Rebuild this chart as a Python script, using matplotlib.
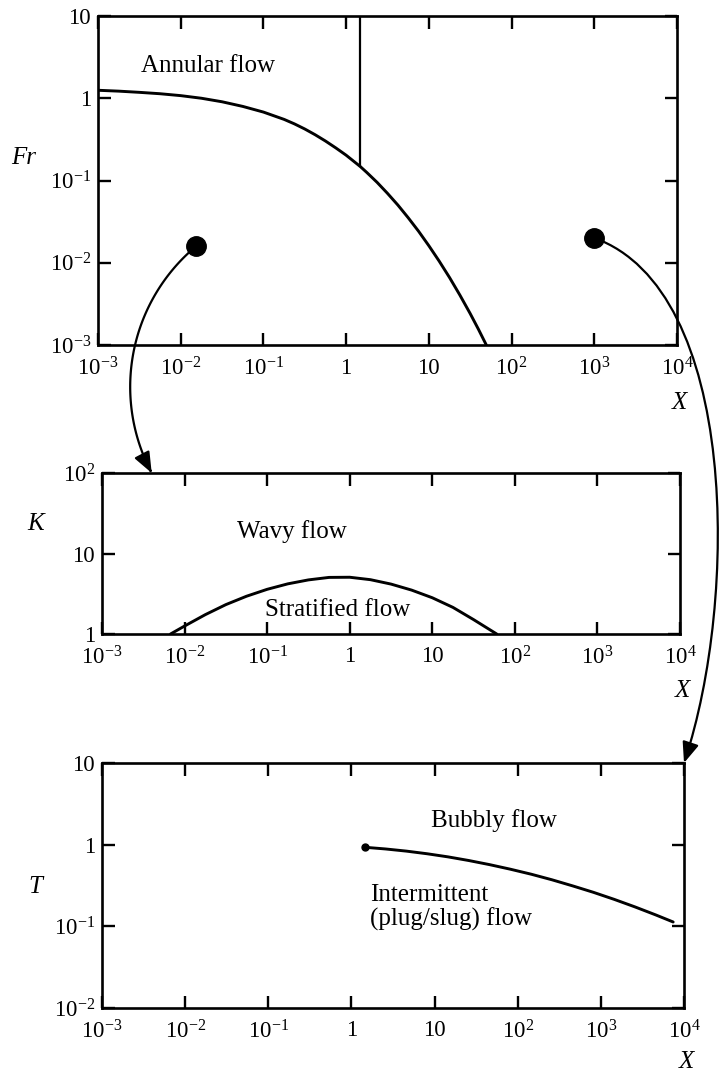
import numpy as np
import matplotlib
matplotlib.use("Agg")
import matplotlib.pyplot as plt
from matplotlib.path import Path
from matplotlib.patches import FancyArrowPatch
from matplotlib.ticker import FixedLocator, FixedFormatter, NullLocator
from matplotlib.transforms import IdentityTransform, blended_transform_factory

plt.rcParams["font.family"] = ["Liberation Serif", "DejaVu Serif"]
plt.rcParams["mathtext.fontset"] = "custom"
plt.rcParams["mathtext.rm"] = "Liberation Serif"
plt.rcParams["mathtext.it"] = "Liberation Serif:italic"
plt.rcParams["mathtext.bf"] = "Liberation Serif:bold"

# ---- shared X axis (Martinelli parameter) ----
x_ticks = [1e-3, 1e-2, 1e-1, 1, 10, 1e2, 1e3, 1e4]
x_ticklabels = [r"$10^{-3}$", r"$10^{-2}$", r"$10^{-1}$", "1", "10",
                r"$10^{2}$", r"$10^{3}$", r"$10^{4}$"]

# ---- panel 1: Froude number map ----
fr_ticks = [1e-3, 1e-2, 1e-1, 1, 10]
fr_ticklabels = [r"$10^{-3}$", r"$10^{-2}$", r"$10^{-1}$", "1", "10"]
fr_curve_x = [0.001, 0.00178, 0.00316, 0.00562, 0.01, 0.0178, 0.0316, 0.0562,
              0.1, 0.178, 0.237, 0.316, 0.422, 0.562, 0.75, 1.0, 1.48, 1.78,
              2.37, 3.16, 4.22, 5.62, 7.5, 10, 13.3, 17.8, 23.7, 31.6, 39.8, 49.5]
fr_curve_y = [1.25, 1.22, 1.18, 1.135, 1.076, 1.0, 0.906, 0.796,
              0.679, 0.553, 0.488, 0.423, 0.360, 0.302, 0.249, 0.203, 0.148, 0.125,
              0.0948, 0.0698, 0.0503, 0.0353, 0.0242, 0.0161, 0.0105, 0.0066,
              0.00405, 0.00241, 0.00155, 0.001]
annular_x = [1.48, 1.48]
annular_y = [0.148, 10]
dot_x = [0.0155, 1000]
dot_y = [0.016, 0.02]

# ---- panel 2: K map ----
k_ticks = [1, 10, 100]
k_ticklabels = ["1", "10", r"$10^{2}$"]
k_curve_x = [0.00676, 0.01, 0.0178, 0.0316, 0.0562, 0.1, 0.178, 0.316, 0.562,
             1.0, 1.78, 3.16, 5.62, 10, 17.8, 31.6, 60.3]
k_curve_y = [1.0, 1.256, 1.738, 2.317, 2.944, 3.589, 4.198, 4.699, 5.047,
             5.07, 4.73, 4.17, 3.51, 2.82, 2.14, 1.51, 1.0]

# ---- panel 3: T map ----
t_ticks = [1e-2, 1e-1, 1, 10]
t_ticklabels = [r"$10^{-2}$", r"$10^{-1}$", "1", "10"]
t_curve_x = [1.45, 2.57, 4.57, 8.13, 14.5, 25.7, 45.7, 81.3, 145, 257, 457,
             813, 1445, 2570, 4570, 7410]
t_curve_y = [0.929, 0.886, 0.834, 0.774, 0.709, 0.640, 0.570, 0.501, 0.435,
             0.372, 0.313, 0.261, 0.214, 0.173, 0.138, 0.113]

W, H = 720, 1075
fig = plt.figure(figsize=(W / 100, H / 100), dpi=100)

TICK_FS = 16.5
TEXT_FS = 18


def add_panel(left, top, right, bottom, ylim, yticks, yticklabels):
    ax = fig.add_axes([left / W, (H - bottom) / H, (right - left) / W, (bottom - top) / H])
    ax.set_xscale("log")
    ax.set_yscale("log")
    ax.set_xlim(1e-3, 1e4)
    ax.set_ylim(*ylim)
    ax.xaxis.set_major_locator(FixedLocator(x_ticks))
    ax.xaxis.set_major_formatter(FixedFormatter(x_ticklabels))
    ax.yaxis.set_major_locator(FixedLocator(yticks))
    ax.yaxis.set_major_formatter(FixedFormatter(yticklabels))
    ax.xaxis.set_minor_locator(NullLocator())
    ax.yaxis.set_minor_locator(NullLocator())
    ax.tick_params(axis="both", which="major", direction="in", top=True, right=True,
                   length=9, width=1.7, labelsize=TICK_FS, color="black")
    ax.tick_params(axis="x", pad=9)
    ax.tick_params(axis="y", pad=5)
    for s in ax.spines.values():
        s.set_linewidth(1.9)
    return ax


ax1 = add_panel(98, 16, 677, 345, (1e-3, 10), fr_ticks, fr_ticklabels)
ax2 = add_panel(102, 473, 680, 634, (1, 100), k_ticks, k_ticklabels)
ax3 = add_panel(102, 763, 684, 1008, (1e-2, 10), t_ticks, t_ticklabels)

line_kw = dict(color="black", lw=2.1, solid_capstyle="round", solid_joinstyle="round")

# Panel 1 boundaries
ax1.plot(fr_curve_x, fr_curve_y, **line_kw)
ax1.plot(annular_x, annular_y, color="black", lw=1.6)
ax1.plot(dot_x, dot_y, "o", ms=14, color="black", clip_on=False, zorder=5)
ax1.text(0.0214, 2.5, "Annular flow", fontsize=TEXT_FS, ha="center", va="center")

# Panel 2 boundary
ax2.plot(k_curve_x, k_curve_y, **line_kw)
ax2.text(0.2, 18.5, "Wavy flow", fontsize=TEXT_FS, ha="center", va="center")
ax2.text(0.72, 2.0, "Stratified flow", fontsize=TEXT_FS, ha="center", va="center")

# Panel 3 boundary
ax3.plot(t_curve_x, t_curve_y, **line_kw)
ax3.plot(t_curve_x[:1], t_curve_y[:1], "o", ms=5, color="black")
ax3.text(52, 2.0, "Bubbly flow", fontsize=TEXT_FS, ha="center", va="center")
ax3.text(1.66, 0.17, "Intermittent\n(plug/slug) flow", fontsize=TEXT_FS,
         ha="left", va="center", linespacing=1.05)

# Axis titles
for ax, name, ypos, xfrac, xlab_y in [(ax1, "Fr", 0.19, -0.128, -0.175),
                                      (ax2, "K", 23, -0.114, -0.355),
                                      (ax3, "T", 0.30, -0.115, -0.22)]:
    tr = blended_transform_factory(ax.transAxes, ax.transData)
    ax.text(xfrac, ypos, name, transform=tr, fontsize=TEXT_FS, style="italic",
            ha="center", va="center")
    ax.text(1.005, xlab_y, "X", transform=ax.transAxes, fontsize=TEXT_FS,
            style="italic", ha="center", va="center")


# Connector arrows linking the marked points to the detail maps
def circle_arc(p0, p1, radius, n=120):
    p0 = np.asarray(p0, float)
    p1 = np.asarray(p1, float)
    chord = p1 - p0
    c = np.hypot(*chord)
    normal = np.array([-chord[1], chord[0]]) / c
    h = np.sqrt(max(radius ** 2 - (c / 2) ** 2, 0.0))
    center = (p0 + p1) / 2 + h * normal
    a0 = np.arctan2(p0[1] - center[1], p0[0] - center[0])
    a1 = np.arctan2(p1[1] - center[1], p1[0] - center[0])
    delta = (a1 - a0 + np.pi) % (2 * np.pi) - np.pi
    ang = a0 + delta * np.linspace(0, 1, n)
    return center + radius * np.column_stack([np.cos(ang), np.sin(ang)])


arrow_kw = dict(arrowstyle="-|>,head_length=0.7,head_width=0.28", mutation_scale=18,
                lw=1.6, color="black", transform=IdentityTransform(), zorder=3)

start_left = ax1.transData.transform((dot_x[0], dot_y[0]))
end_left = ax2.transData.transform((4.0e-3, 100))
pts = circle_arc(start_left, end_left, 183)
fig.add_artist(FancyArrowPatch(path=Path(pts), **arrow_kw))

start_right = ax1.transData.transform((dot_x[1], dot_y[1]))
end_right = ax3.transAxes.transform((1.0, 1.0))
verts = [start_right, start_right + np.array([145, -52]),
         end_right + np.array([54, 163]), end_right]
codes = [Path.MOVETO, Path.CURVE4, Path.CURVE4, Path.CURVE4]
fig.add_artist(FancyArrowPatch(path=Path(verts, codes), **arrow_kw))

fig.savefig("out.png", dpi=100, facecolor="white")
